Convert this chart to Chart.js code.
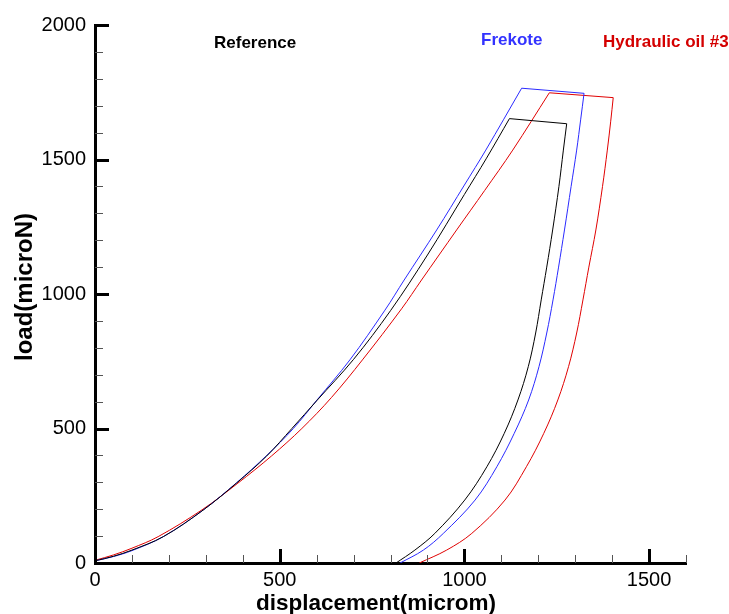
<!DOCTYPE html>
<html>
<head>
<meta charset="utf-8">
<script src="https://cdn.jsdelivr.net/npm/chart.js@4/dist/chart.umd.min.js"></script>
<style>
  html, body { margin: 0; padding: 0; background: #ffffff; }
  #wrap { width: 729px; height: 614px; position: relative; }
</style>
</head>
<body>
<div id="wrap"><canvas id="c" width="729" height="614"></canvas></div>
<script>
// ---- Data ----
const seriesNames = ["Reference", "Frekote", "Hydraulic oil #3"];
const seriesColors = ["#000000", "#2a2aff", "#e00000"];
const labelColors = ["#000000", "#3333ff", "#d40000"];

// Reference (black)
const refLoadingDisp = [0, 50, 100, 185, 293, 383, 465, 533, 600, 700, 800, 900, 1000, 1060, 1122];
const refLoadingLoad = [8, 25, 48, 98, 197, 297, 398, 500, 603, 757, 938, 1145, 1370, 1505, 1652];
const refHoldDisp = [1122, 1277];
const refHoldLoad = [1652, 1633];
const refUnloadDisp = [1277, 1268, 1256, 1239, 1223, 1208, 1193, 1173, 1145, 1108, 1061, 1001, 920, 866, 815];
const refUnloadLoad = [1633, 1535, 1400, 1238, 1100, 978, 855, 730, 606, 482, 358, 234, 110, 48, 0];

// Frekote (blue)
const freLoadingDisp = [0, 50, 100, 185, 293, 383, 465, 537, 601, 690, 785, 837, 925, 1000, 1058, 1155];
const freLoadingLoad = [8, 24, 46, 98, 197, 298, 400, 500, 606, 755, 940, 1052, 1238, 1405, 1535, 1765];
const freHoldDisp = [1155, 1324];
const freHoldLoad = [1765, 1746];
const freUnloadDisp = [1324, 1315, 1304, 1289, 1271, 1255, 1240, 1223, 1202, 1174, 1135, 1088, 1029, 943, 889, 826];
const freUnloadLoad = [1746, 1650, 1535, 1400, 1238, 1100, 978, 855, 730, 606, 482, 358, 234, 110, 48, 0];

// Hydraulic oil #3 (red)
const hydLoadingDisp = [0, 50, 100, 171, 289, 387, 478, 560, 640, 724, 830, 884, 979, 1055, 1131, 1230];
const hydLoadingLoad = [10, 30, 55, 98, 197, 297, 398, 500, 615, 755, 945, 1052, 1238, 1385, 1535, 1748];
const hydHoldDisp = [1230, 1403];
const hydHoldLoad = [1748, 1730];
const hydUnloadDisp = [1403, 1396, 1387, 1374, 1356, 1337, 1321, 1304, 1282, 1253, 1215, 1168, 1110, 1020, 952, 878];
const hydUnloadLoad = [1730, 1640, 1535, 1400, 1238, 1100, 978, 855, 730, 606, 482, 358, 234, 110, 48, 0];

const xMajorTicks = [0, 500, 1000, 1500];
const yMajorTicks = [0, 500, 1000, 1500, 2000];
const xTitle = "displacement(microm)";
const yTitle = "load(microN)";

function pts(xs, ys) { return xs.map((x, i) => ({ x: x, y: ys[i] })); }

const FONT = "'Liberation Sans', Arial, Helvetica, sans-serif";

// inward ticks, minor ticks, axis titles and series labels
const decorPlugin = {
  id: 'decor',
  afterDraw(chart) {
    const ctx = chart.ctx;
    const xs = chart.scales.x, ys = chart.scales.y;
    const area = chart.chartArea;
    ctx.save();
    for (let v = 0; v <= 1600; v += 100) {
      const px = Math.round(xs.getPixelForValue(v));
      const major = xMajorTicks.includes(v);
      ctx.beginPath();
      ctx.strokeStyle = major ? '#000' : '#555';
      ctx.lineWidth = major ? 3 : 1;
      ctx.moveTo(px + 0.5, area.bottom);
      ctx.lineTo(px + 0.5, area.bottom - (major ? 14 : 8));
      ctx.stroke();
    }
    for (let v = 0; v <= 2000; v += 100) {
      const py = Math.round(ys.getPixelForValue(v));
      const major = yMajorTicks.includes(v);
      ctx.beginPath();
      ctx.strokeStyle = major ? '#000' : '#555';
      ctx.lineWidth = major ? 3 : 1;
      ctx.moveTo(area.left, py + 0.5);
      ctx.lineTo(area.left + (major ? 14 : 8), py + 0.5);
      ctx.stroke();
    }
    // axis titles
    ctx.fillStyle = '#000';
    ctx.font = "bold 22.5px " + FONT;
    ctx.textAlign = 'center';
    ctx.textBaseline = 'alphabetic';
    ctx.fillText(xTitle, 376, 610);
    ctx.save();
    ctx.font = "bold 24px " + FONT;
    ctx.translate(32, 287);
    ctx.rotate(-Math.PI / 2);
    ctx.fillText(yTitle, 0, 0);
    ctx.restore();
    // series labels
    ctx.font = "bold 17px " + FONT;
    ctx.textAlign = 'left';
    const labelPos = [[214, 48], [481, 45], [603, 47]];
    seriesNames.forEach((n, i) => {
      ctx.fillStyle = labelColors[i];
      ctx.fillText(n, labelPos[i][0], labelPos[i][1]);
    });
    ctx.restore();
  }
};

function seg(label, xs, ys, color, tension) {
  return { label: label, data: pts(xs, ys), borderColor: color, showLine: true, pointRadius: 0,
           borderWidth: 1, tension: tension, fill: false };
}

const datasets = [
  seg(seriesNames[0] + " loading", refLoadingDisp, refLoadingLoad, seriesColors[0], 0.35),
  seg(seriesNames[0] + " hold", refHoldDisp, refHoldLoad, seriesColors[0], 0),
  seg(seriesNames[0] + " unloading", refUnloadDisp, refUnloadLoad, seriesColors[0], 0.35),
  seg(seriesNames[1] + " loading", freLoadingDisp, freLoadingLoad, seriesColors[1], 0.35),
  seg(seriesNames[1] + " hold", freHoldDisp, freHoldLoad, seriesColors[1], 0),
  seg(seriesNames[1] + " unloading", freUnloadDisp, freUnloadLoad, seriesColors[1], 0.35),
  seg(seriesNames[2] + " loading", hydLoadingDisp, hydLoadingLoad, seriesColors[2], 0.35),
  seg(seriesNames[2] + " hold", hydHoldDisp, hydHoldLoad, seriesColors[2], 0),
  seg(seriesNames[2] + " unloading", hydUnloadDisp, hydUnloadLoad, seriesColors[2], 0.35)
];

new Chart(document.getElementById('c'), {
  type: 'scatter',
  data: { datasets: datasets },
  options: {
    responsive: false,
    animation: false,
    devicePixelRatio: 1,
    layout: { padding: { left: 0, right: 43, top: 25, bottom: 0 } },
    plugins: { legend: { display: false }, tooltip: { enabled: false } },
    scales: {
      x: {
        type: 'linear', min: 0, max: 1600,
        grid: { display: false, drawTicks: false },
        border: { display: true, width: 3, color: '#000' },
        ticks: { color: '#000', padding: 5, maxRotation: 0, font: { family: FONT, size: 20 },
                 callback: v => String(v) },
        afterBuildTicks(s) { s.ticks = xMajorTicks.map(v => ({ value: v })); },
        afterFit(s) { s.height = 51; }
      },
      y: {
        type: 'linear', min: 0, max: 2000,
        grid: { display: false, drawTicks: false },
        border: { display: true, width: 3, color: '#000' },
        ticks: { color: '#000', padding: 9, font: { family: FONT, size: 20 },
                 callback: v => String(v) },
        afterBuildTicks(s) { s.ticks = yMajorTicks.map(v => ({ value: v })); },
        afterFit(s) { s.width = 95; }
      }
    }
  },
  plugins: [decorPlugin]
});
</script>
</body>
</html>
